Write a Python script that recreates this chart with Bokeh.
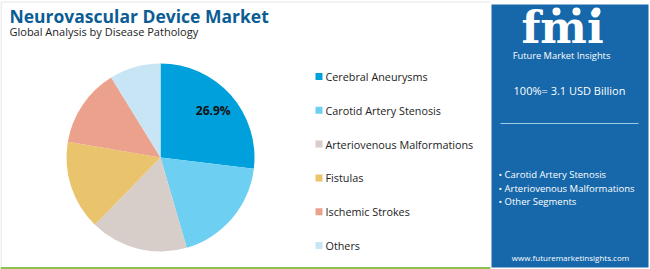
import math
from bokeh.plotting import figure
from bokeh.models import Range1d, ColumnDataSource
from bokeh.core.properties import value
from bokeh.embed import file_html
from bokeh.resources import INLINE

categories = ["Cerebral Aneurysms", "Carotid Artery Stenosis", "Arteriovenous Malformations",
              "Fistulas", "Ischemic Strokes", "Others"]
shares = [26.9, 18.6, 16.8, 15.4, 13.5, 8.8]
colors = ["#00a0dc", "#6dcff2", "#d7cdc9", "#e9c46c", "#eba18b", "#c7e5f4"]
title = "Neurovascular Device Market"
subtitle = "Global Analysis by Disease Pathology"
total_label = "100%= 3.1 USD Billion"
bullets = ["Carotid Artery Stenosis", "Arteriovenous Malformations", "Other Segments"]

W, H = 650, 269
p = figure(width=W, height=H, output_backend="svg", toolbar_location=None,
           x_range=Range1d(0, W), y_range=Range1d(0, H), min_border=0)
p.axis.visible = False
p.grid.visible = False
p.outline_line_color = None
p.background_fill_color = "white"
p.border_fill_color = "white"

def Y(y):
    return H - y

FONT = "Open Sans"

# frame lines
p.line([0.5, 0.5], [Y(2), Y(266)], line_color="#dddddd", line_width=1)
p.line([0, 490], [Y(1.5), Y(1.5)], line_color="#e6e6e6", line_width=1)
p.line([0, 490], [Y(267.5), Y(267.5)], line_color="#8cc152", line_width=2)

# titles
p.text([9], [Y(15)], text=[title], text_font=value(FONT), text_font_style="bold",
       text_font_size="17.5px", text_color="#0b5d94", text_baseline="middle")
p.text([9], [Y(31)], text=[subtitle], text_font=value(FONT),
       text_font_size="11px", text_color="#222222", text_baseline="middle")

# pie
cx, cy, R = 160, Y(157), 94
total = sum(shares)
starts, ends, acc = [], [], 0.0
for s in shares:
    a0 = acc / total * 2 * math.pi
    acc += s
    a1 = acc / total * 2 * math.pi
    starts.append(math.pi / 2 - a1)
    ends.append(math.pi / 2 - a0)
src = ColumnDataSource(dict(start=starts, end=ends, color=colors))
p.wedge(x=cx, y=cy, radius=R, start_angle="start", end_angle="end",
        fill_color="color", line_color=None, source=src)

mid = shares[0] / 2 / total * 2 * math.pi
p.text([cx + 0.75 * R * math.sin(mid)], [cy + 0.75 * R * math.cos(mid)],
       text=[f"{shares[0]}%"], text_font=value(FONT), text_font_style="bold",
       text_font_size="12px", text_color="#111111", text_align="center",
       text_baseline="middle")

# legend
ly = [76 + i * 33.8 for i in range(len(categories))]
p.rect([318.5] * len(categories), [Y(v) for v in ly], width=7, height=7,
       fill_color=colors, line_color=None)
p.text([325] * len(categories), [Y(v) for v in ly], text=categories,
       text_font=value(FONT), text_font_size="10.8px", text_color="#222222",
       text_baseline="middle")

# right panel
p.quad(left=[491], right=[648], bottom=[Y(267)], top=[Y(4)],
       fill_color="#1668aa", line_color=None)
p.text([562], [Y(27)], text=["fmi"], text_font=value("DejaVu Serif"), text_font_style="bold",
       text_font_size="44px", text_color="white", text_align="center", text_baseline="middle")
p.circle([556, 576, 596], [Y(11), Y(11), Y(11)], radius=4, fill_color="white", line_color=None)
p.text([561], [Y(55)], text=["Future Market Insights"], text_font=value(FONT),
       text_font_size="9.3px", text_color="white", text_align="center", text_baseline="middle")
p.text([569], [Y(90)], text=[total_label], text_font=value(FONT),
       text_font_size="11px", text_color="white", text_align="center", text_baseline="middle")
p.line([500, 638], [Y(123), Y(123)], line_color="#9ccbe8", line_width=1)
p.text([498] * 3, [Y(174), Y(187.5), Y(201)], text=["\u2022 " + b for b in bullets],
       text_font=value(FONT), text_font_size="9.5px", text_color="white", text_baseline="middle")
p.text([570], [Y(257)], text=["www.futuremarketinsights.com"], text_font=value(FONT),
       text_font_size="8px", text_color="white", text_align="center", text_baseline="middle")

open("out.html", "w").write(file_html(p, INLINE))
